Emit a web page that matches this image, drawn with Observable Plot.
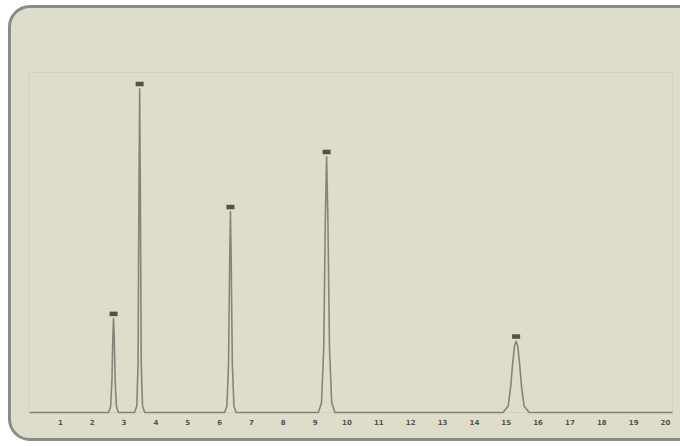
<!DOCTYPE html>
<html>
<head>
<meta charset="utf-8">
<script src="https://cdn.jsdelivr.net/npm/d3@7"></script>
<script src="https://cdn.jsdelivr.net/npm/@observablehq/plot@0.6"></script>
<style>
  html, body { margin: 0; padding: 0; background: #ffffff; width: 680px; height: 446px; overflow: hidden; }
  #panel { position: absolute; left: 8px; top: 5px; width: 700px; height: 430px;
           border: 3px solid #8b8b8b; border-radius: 22px; background: #dedcca; }
  #chart { position: absolute; left: 0; top: 0; }
</style>
</head>
<body>
<div id="panel"></div>
<div id="chart"></div>
<script>
// Retention times (min) and relative heights of the peaks
const peakX = [2.67, 3.49, 6.34, 9.36, 15.31];
const peakH = [29, 100, 62, 79, 22];

// Detector trace
const traceX = [
  0.05, 2.52, 2.58, 2.62, 2.65, 2.67, 2.69, 2.72, 2.76, 2.82,
  3.33, 3.40, 3.44, 3.47, 3.49, 3.51, 3.54, 3.58, 3.65,
  6.16, 6.23, 6.28, 6.32, 6.34, 6.36, 6.40, 6.45, 6.52,
  9.10, 9.20, 9.27, 9.32, 9.36, 9.40, 9.45, 9.52, 9.62,
  14.90, 15.06, 15.14, 15.20, 15.26, 15.31, 15.36, 15.42, 15.48, 15.56, 15.72,
  20.2
];
const traceY = [
  0, 0, 2, 10, 24, 29, 24, 10, 2, 0,
  0, 2, 15, 70, 100, 70, 15, 2, 0,
  0, 2, 15, 50, 62, 50, 15, 2, 0,
  0, 3, 20, 60, 79, 60, 20, 3, 0,
  0, 2, 8, 15, 20.5, 22, 20.5, 15, 8, 2, 0,
  0
];
const xTicks = d3.range(1, 21);

const trace = traceX.map((x, i) => ({x, y: traceY[i]}));
const peaks = peakX.map((x, i) => ({x, h: peakH[i]}));

const chart = Plot.plot({
  width: 680,
  height: 446,
  marginLeft: 28,
  marginRight: 8,
  marginTop: 72,
  marginBottom: 34,
  style: { background: "transparent", fontFamily: "DejaVu Sans, sans-serif" },
  x: { domain: [0, 20.22], ticks: xTicks, tickFormat: d => d, label: null },
  y: { domain: [0, 105], axis: null },
  marks: [
    Plot.frame({ stroke: "#d3d1bf", strokeWidth: 1 }),
    Plot.axisX({ ticks: xTicks, tickSize: 0, tickPadding: 8, fontSize: 7, fontWeight: "bold", fill: "#57524b", label: null }),
    Plot.line(trace, { x: "x", y: "y", stroke: "#807a72", strokeWidth: 1.6, strokeOpacity: 0.9 }),
    Plot.ruleX(peaks, { x: "x", y1: d => d.h + 0.6, y2: d => d.h + 2.0, stroke: "#55504a", strokeWidth: 8 })
  ]
});
document.getElementById("chart").appendChild(chart);
</script>
</body>
</html>
